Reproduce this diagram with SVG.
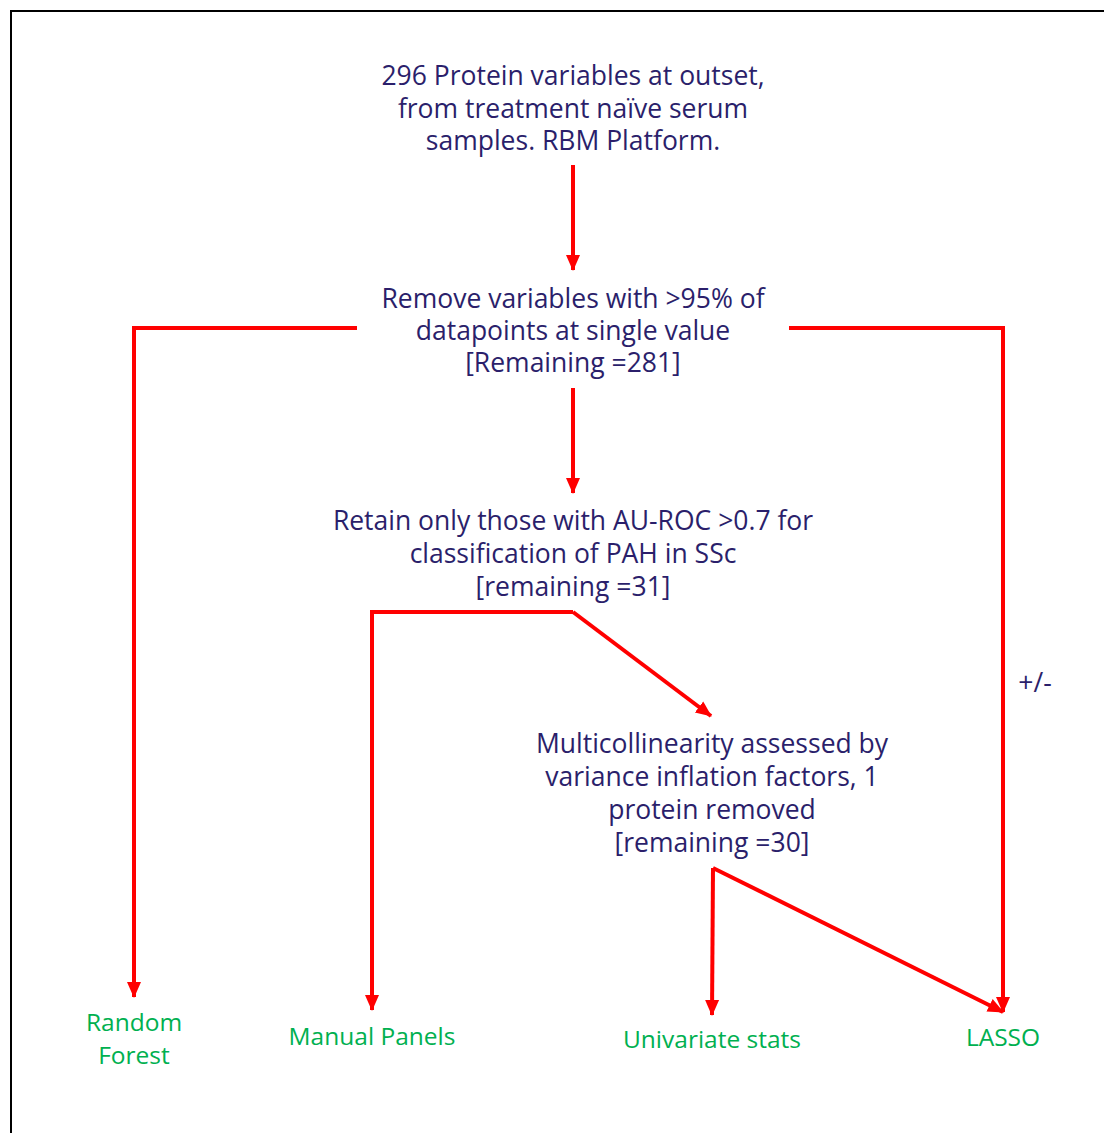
<svg xmlns="http://www.w3.org/2000/svg" width="1104" height="1133" viewBox="0 0 1104 1133">
<style>
.t{font-family:"Open Sans","Liberation Sans",sans-serif;font-size:26.5px;fill:#2b1f6b;text-anchor:middle}
.g{font-family:"Open Sans","Liberation Sans",sans-serif;font-size:24.5px;fill:#00b050;text-anchor:middle}
.c{fill:none;stroke:#ff0000;stroke-width:4;stroke-linejoin:miter}
</style>
<defs>
<marker id="ah" markerUnits="userSpaceOnUse" markerWidth="16" markerHeight="16" viewBox="0 0 16 16" refX="15" refY="8" orient="auto">
<path d="M0,1 L16,8 L0,15 Z" fill="#ff0000"/>
</marker>
</defs>
<rect width="1104" height="1133" fill="#ffffff"/>
<path d="M11,1133 L11,11 L1104,11" fill="none" stroke="#000" stroke-width="2"/>
<g id="n1"><text class="t" x="573" y="85">296 Protein variables at outset,</text><text class="t" x="573" y="118">from treatment naïve serum</text><text class="t" x="573" y="150">samples. RBM Platform.</text></g>
<g id="n2"><text class="t" x="573" y="308">Remove variables with &gt;95% of</text><text class="t" x="573" y="340">datapoints at single value</text><text class="t" x="573" y="372">[Remaining =281]</text></g>
<g id="n3"><text class="t" x="573" y="530">Retain only those with AU-ROC &gt;0.7 for</text><text class="t" x="573" y="563">classification of PAH in SSc</text><text class="t" x="573" y="596">[remaining =31]</text></g>
<g id="n4"><text class="t" x="712" y="753">Multicollinearity assessed by</text><text class="t" x="712" y="786">variance inflation factors, 1</text><text class="t" x="712" y="819">protein removed</text><text class="t" x="712" y="852">[remaining =30]</text></g>
<g id="rf"><text class="g" x="134" y="1031">Random</text><text class="g" x="134" y="1064">Forest</text></g>
<g id="mp"><text class="g" x="372" y="1045">Manual Panels</text></g>
<g id="us"><text class="g" x="712" y="1048">Univariate stats</text></g>
<g id="la"><text class="g" x="1003" y="1046">LASSO</text></g>
<g id="connectors">
<path class="c" d="M573,165 L573,270" marker-end="url(#ah)"/>
<path class="c" d="M573,388 L573,493" marker-end="url(#ah)"/>
<path class="c" d="M357,328 L134,328 L134,997" marker-end="url(#ah)"/>
<path class="c" d="M789,328 L1003,328 L1003,1012" marker-end="url(#ah)"/>
<path class="c" d="M573,612 L372,612 L372,1010" marker-end="url(#ah)"/>
<path class="c" d="M573,612 L711,716" marker-end="url(#ah)"/>
<path class="c" d="M713,868 L712,1015" marker-end="url(#ah)"/>
<path class="c" d="M713,868 L1003,1012" marker-end="url(#ah)"/>
<text class="t" x="1035" y="692">+/-</text>
</g>
</svg>
